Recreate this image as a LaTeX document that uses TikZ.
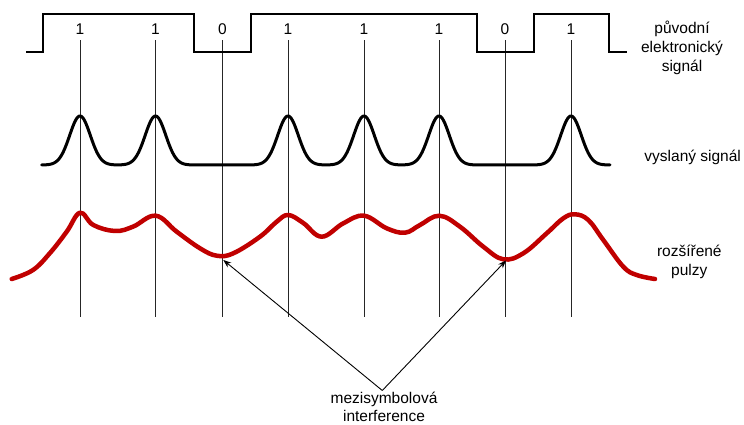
\documentclass[tikz,border=0pt]{standalone}
\usepackage{fontspec}
\setmainfont{Liberation Sans}
\usetikzlibrary{arrows.meta}
\definecolor{pulsered}{RGB}{192,0,0}
\begin{document}
\begin{tikzpicture}[x=1pt,y=-1pt,
  lbl/.style={font=\fontsize{15.5}{19}\selectfont, inner sep=0pt, align=center},
  tick/.style={line width=1pt, black!85},
  sq/.style={line width=2pt, line join=miter},
  sent/.style={line width=3pt, line join=round, line cap=round},
  recv/.style={line width=4.5pt, pulsered, line cap=round, line join=round},
  arr/.style={line width=0.9pt, -{Stealth[length=8pt,width=6pt]}},
  declare function={gp(\xx,\cc)=exp(-min(((\xx-\cc)/10.3)^2/2,30));}
]
\useasboundingbox (0,0) rectangle (744,425);

% bit labels
\node[lbl] (b1) at (80,29) {1};
\node[lbl] (b2) at (155.5,29) {1};
\node[lbl] (b3) at (222.5,29) {0};
\node[lbl] (b4) at (288,29) {1};
\node[lbl] (b5) at (364,29) {1};
\node[lbl] (b6) at (439,29) {1};
\node[lbl] (b7) at (505,29) {0};
\node[lbl] (b8) at (571,29) {1};
\coordinate (bot) at (0,317);

\foreach \n in {b1,b2,b3,b4,b5,b6,b7,b8}
  \draw[tick] ([yshift=-5.5pt]\n.south) -- (\n |- bot);

% original electronic signal
\draw[sq] (26,51.7) -- (42.7,51.7) -- (42.7,14) -- (194.3,14) -- (194.3,51.7)
  -- (250.7,51.7) -- (250.7,14) -- (477.3,14) -- (477.3,51.7) -- (534,51.7)
  -- (534,14) -- (609.3,14) -- (609.3,51.7) -- (626.7,51.7);

% transmitted signal
\draw[sent] plot[domain=41.7:610, samples=500]
  (\x, {165 - 49*(gp(\x,80)+gp(\x,155.5)+gp(\x,288)+gp(\x,364)+gp(\x,439)+gp(\x,571))});

% broadened pulses
\draw[recv] plot[smooth, tension=0.65] coordinates {
  (11.7,279) (33,270) (50,253) (66.7,231.7) (80,212.7) (93.3,225) (115,231)
  (133,226.7) (155.7,215.7) (176.7,231.7) (200,248.3) (216.7,255.7) (233.3,253.3)
  (260,236.7) (276.7,221.7) (288.3,215) (303.3,223) (321.7,236.7) (343.3,223.3)
  (364,215.7) (386.7,228.3) (405,232.7) (420,225) (439.3,215.7) (460,226.7)
  (483.3,246.7) (503.3,259.3) (523.3,253.3) (546.7,233.3) (563.3,218.3)
  (575,214.3) (588.3,220) (603.3,240) (623.3,266.7) (636.7,275) (655,279)};

% side labels
\node[lbl] (l1) at (682,48) {původní\\elektronický\\signál};
\node[lbl] (l2) at (692.7,157.7) {vyslaný signál};
\node[lbl] (l3) at (689.3,262.2) {rozšířené\\pulzy};

% intersymbol interference
\node[lbl, font=\fontsize{15.5}{18}\selectfont] (isi) at (384,407) {mezisymbolová\\interference};
\coordinate (apex) at (382.3,390.5);
\coordinate (t1) at (223.3,260);
\coordinate (t2) at (506,260.5);
\draw[arr] (apex) -- (t1);
\draw[arr] (apex) -- (t2);
\end{tikzpicture}
\end{document}
